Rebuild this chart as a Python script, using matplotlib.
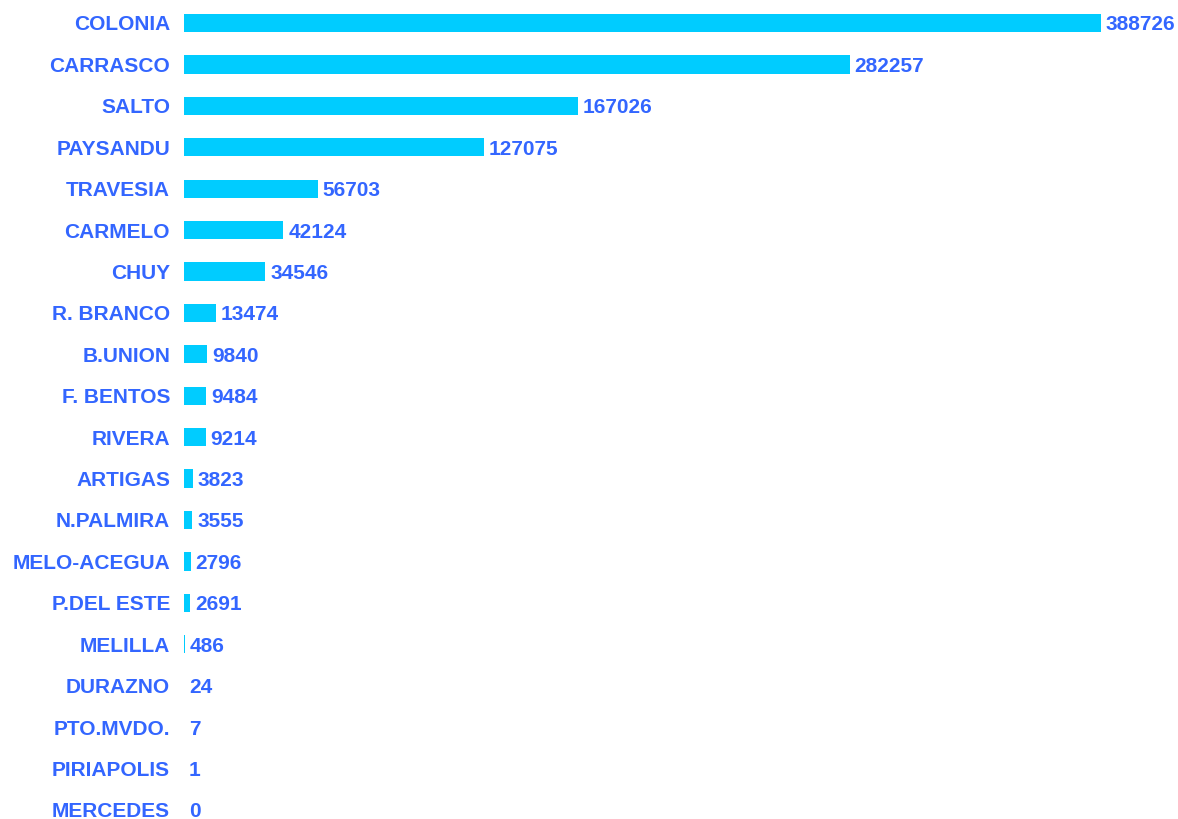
import matplotlib
matplotlib.use("Agg")
import matplotlib.pyplot as plt

# ports / crossings and their counts
names = ["COLONIA", "CARRASCO", "SALTO", "PAYSANDU", "TRAVESIA", "CARMELO", "CHUY",
         "R. BRANCO", "B.UNION", "F. BENTOS", "RIVERA", "ARTIGAS", "N.PALMIRA",
         "MELO-ACEGUA", "P.DEL ESTE", "MELILLA", "DURAZNO", "PTO.MVDO.", "PIRIAPOLIS",
         "MERCEDES"]
values = [388726, 282257, 167026, 127075, 56703, 42124, 34546, 13474, 9840, 9484,
          9214, 3823, 3555, 2796, 2691, 486, 24, 7, 1, 0]

bar_color = "#00CCFF"
text_color = "#3366FF"

plt.rcParams['font.family'] = ['Liberation Sans', 'DejaVu Sans']

fig = plt.figure(figsize=(11.78, 8.19), dpi=100)
ax = fig.add_axes([184 / 1178, 0, (1101 - 184) / 1178, 1])

pos = list(range(len(names)))
ax.barh(pos, values, height=0.44, color=bar_color)

ax.set_xlim(0, max(values))
ax.set_ylim(19.22, -0.555)

for i, v in enumerate(values):
    ax.annotate(str(v), (v, i), xytext=(3.5, 0), textcoords="offset points",
                ha="left", va="center_baseline", fontsize=15, fontweight="bold",
                color=text_color)

ax.set_yticks(pos)
ax.set_yticklabels(names, fontsize=15, fontweight="bold", color=text_color,
                   va="center_baseline")
ax.tick_params(axis="y", length=0, pad=10)
ax.set_xticks([])
for s in ax.spines.values():
    s.set_visible(False)

fig.savefig("out.png", dpi=100)
